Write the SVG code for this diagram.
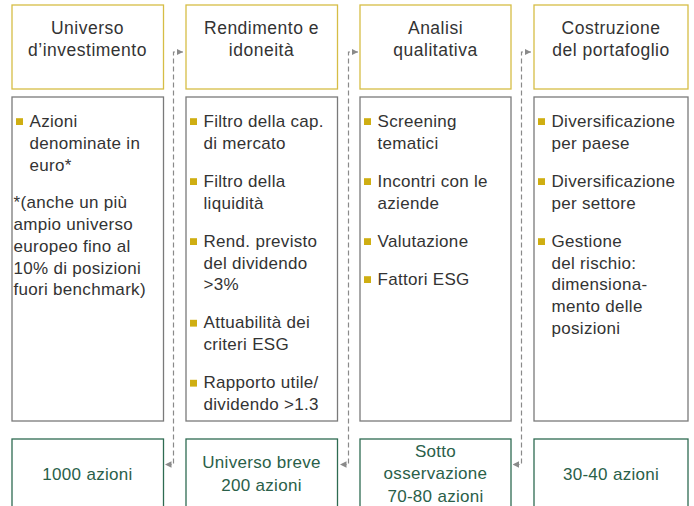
<svg xmlns="http://www.w3.org/2000/svg" width="694" height="506" viewBox="0 0 694 506">
<defs>
<style>
text{font-family:"Liberation Sans",Arial,Helvetica,sans-serif;}
.hd{fill:none;stroke:#d6bd45;stroke-width:1.3;}
.md{fill:none;stroke:#7a7a7a;stroke-width:1.3;}
.bt{fill:none;stroke:#2e6b52;stroke-width:1.3;}
.ht{font-size:17.5px;fill:#333;text-anchor:middle;letter-spacing:0.5px;}
.mt{font-size:17px;fill:#333;letter-spacing:0.3px;}
.bx{font-size:17px;fill:#2a6049;text-anchor:middle;letter-spacing:0.3px;}
.bl{fill:#cfae12;}
.cn{fill:none;stroke:#8a8a8a;stroke-width:1.2;stroke-dasharray:5 3;marker-start:url(#ah);marker-end:url(#ah);}
</style>
<marker id="ah" viewBox="0 0 10 10" refX="10" refY="5" markerUnits="userSpaceOnUse" markerWidth="6.5" markerHeight="9" orient="auto-start-reverse">
<path d="M0,0 L10,5 L0,10 z" fill="#8a8a8a"/>
</marker>
</defs>

<g id="connectors">
<path class="cn" d="M183,52 H173.5 V464.5 H165"/>
<path class="cn" d="M358,52 H348.5 V464.5 H340"/>
<path class="cn" d="M531,52 H521.5 V464.5 H512.5"/>
</g>

<g id="col1-head">
<rect class="hd" x="12" y="5" width="151.5" height="84"/>
<text class="ht" x="87.5" y="34">Universo</text>
<text class="ht" x="87.5" y="55.5">d’investimento</text>
</g>
<g id="col2-head">
<rect class="hd" x="186" y="5" width="151.5" height="84"/>
<text class="ht" x="261.5" y="34">Rendimento e</text>
<text class="ht" x="261.5" y="55.5">idoneità</text>
</g>
<g id="col3-head">
<rect class="hd" x="360" y="5" width="151" height="84"/>
<text class="ht" x="435.5" y="34">Analisi</text>
<text class="ht" x="435.5" y="55.5">qualitativa</text>
</g>
<g id="col4-head">
<rect class="hd" x="534" y="5" width="154" height="84"/>
<text class="ht" x="611" y="34">Costruzione</text>
<text class="ht" x="611" y="55.5">del portafoglio</text>
</g>

<g id="col1-body">
<rect class="md" x="12" y="97" width="151.5" height="324"/>
<rect class="bl" x="16" y="118.2" width="7" height="6.8"/>
<text class="mt" x="29.5" y="126.7">Azioni</text>
<text class="mt" x="29.5" y="148.5">denominate in</text>
<text class="mt" x="29.5" y="170.5">euro*</text>
<text class="mt" x="13.5" y="208.3">*(anche un più</text>
<text class="mt" x="13.5" y="230">ampio universo</text>
<text class="mt" x="13.5" y="251.8">europeo fino al</text>
<text class="mt" x="13.5" y="273.5">10% di posizioni</text>
<text class="mt" x="13.5" y="295.2">fuori benchmark)</text>
</g>
<g id="col2-body">
<rect class="md" x="186" y="97" width="151.5" height="324"/>
<rect class="bl" x="190" y="118.2" width="7" height="6.8"/>
<text class="mt" x="203.5" y="126.7">Filtro della cap.</text>
<text class="mt" x="203.5" y="148.5">di mercato</text>
<rect class="bl" x="190" y="178.2" width="7" height="6.8"/>
<text class="mt" x="203.5" y="186.7">Filtro della</text>
<text class="mt" x="203.5" y="208.5">liquidità</text>
<rect class="bl" x="190" y="238.2" width="7" height="6.8"/>
<text class="mt" x="203.5" y="246.7">Rend. previsto</text>
<text class="mt" x="203.5" y="268.5">del dividendo</text>
<text class="mt" x="203.5" y="290.3">&gt;3%</text>
<rect class="bl" x="190" y="319.8" width="7" height="6.8"/>
<text class="mt" x="203.5" y="328.3">Attuabilità dei</text>
<text class="mt" x="203.5" y="350.1">criteri ESG</text>
<rect class="bl" x="190" y="379.8" width="7" height="6.8"/>
<text class="mt" x="203.5" y="388.3">Rapporto utile/</text>
<text class="mt" x="203.5" y="410.1">dividendo &gt;1.3</text>
</g>
<g id="col3-body">
<rect class="md" x="360" y="97" width="151" height="324"/>
<rect class="bl" x="364" y="118.2" width="7" height="6.8"/>
<text class="mt" x="377.5" y="126.7">Screening</text>
<text class="mt" x="377.5" y="148.5">tematici</text>
<rect class="bl" x="364" y="178.2" width="7" height="6.8"/>
<text class="mt" x="377.5" y="186.7">Incontri con le</text>
<text class="mt" x="377.5" y="208.5">aziende</text>
<rect class="bl" x="364" y="238.2" width="7" height="6.8"/>
<text class="mt" x="377.5" y="246.7">Valutazione</text>
<rect class="bl" x="364" y="276.2" width="7" height="6.8"/>
<text class="mt" x="377.5" y="284.7">Fattori ESG</text>
</g>
<g id="col4-body">
<rect class="md" x="534" y="97" width="154" height="324"/>
<rect class="bl" x="538" y="118.2" width="7" height="6.8"/>
<text class="mt" x="551.5" y="126.7">Diversificazione</text>
<text class="mt" x="551.5" y="148.5">per paese</text>
<rect class="bl" x="538" y="178.2" width="7" height="6.8"/>
<text class="mt" x="551.5" y="186.7">Diversificazione</text>
<text class="mt" x="551.5" y="208.5">per settore</text>
<rect class="bl" x="538" y="238.2" width="7" height="6.8"/>
<text class="mt" x="551.5" y="246.7">Gestione</text>
<text class="mt" x="551.5" y="268.5">del rischio:</text>
<text class="mt" x="551.5" y="290.3">dimensiona-</text>
<text class="mt" x="551.5" y="312.1">mento delle</text>
<text class="mt" x="551.5" y="333.9">posizioni</text>
</g>

<g id="col1-result">
<rect class="bt" x="12" y="439" width="151.5" height="80"/>
<text class="bx" x="87.5" y="480">1000 azioni</text>
</g>
<g id="col2-result">
<rect class="bt" x="186" y="439" width="151.5" height="80"/>
<text class="bx" x="261.5" y="468.3">Universo breve</text>
<text class="bx" x="261.5" y="490.5">200 azioni</text>
</g>
<g id="col3-result">
<rect class="bt" x="360" y="439" width="151" height="80"/>
<text class="bx" x="435.5" y="456.7">Sotto</text>
<text class="bx" x="435.5" y="479.2">osservazione</text>
<text class="bx" x="435.5" y="501.7">70-80 azioni</text>
</g>
<g id="col4-result">
<rect class="bt" x="534" y="439" width="154" height="80"/>
<text class="bx" x="611" y="480">30-40 azioni</text>
</g>
</svg>
